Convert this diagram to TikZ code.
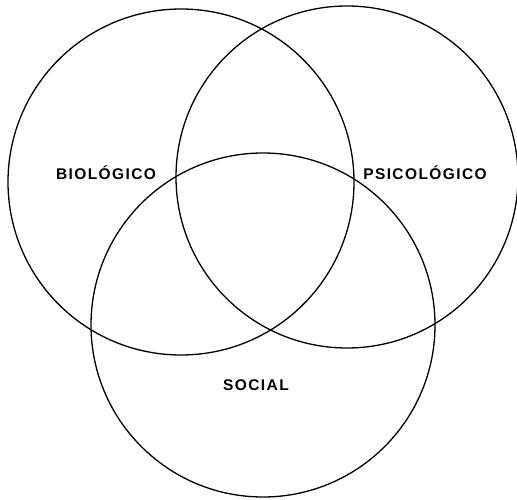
\documentclass[tikz,border=0pt]{standalone}
\usepackage{fontspec}
\setmainfont{Liberation Sans}[LetterSpace=9]
\begin{document}
\begin{tikzpicture}[x=1pt,y=-1pt,
  ring/.style={draw=black,line width=1.3pt},
  lbl/.style={font=\bfseries\fontsize{15.5}{18}\selectfont,inner sep=0pt}]
\useasboundingbox (0,0) rectangle (517,500);
\node[ring,circle,minimum size=346pt,inner sep=0pt] (bio) at (181,182) {};
\node[ring,circle,minimum size=342pt,inner sep=0pt] (psi) at (347,177) {};
\node[ring,circle,minimum size=344pt,inner sep=0pt] (soc) at (263,325) {};
\node[lbl] (tbio) at (106,173) {BIOLÓGICO};
\node[lbl] (tpsi) at (425,173) {PSICOLÓGICO};
\node[lbl] (tsoc) at (256,385) {SOCIAL};
\end{tikzpicture}
\end{document}
